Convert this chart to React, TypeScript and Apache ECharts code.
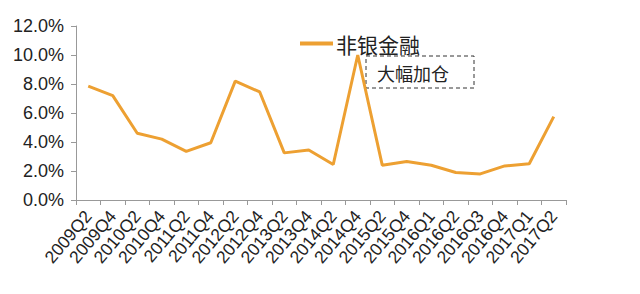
import React, { useEffect, useRef } from "react";
import * as echarts from "echarts";

const categories = [
  "2009Q2", "2009Q4", "2010Q2", "2010Q4", "2011Q2", "2011Q4", "2012Q2", "2012Q4",
  "2013Q2", "2013Q4", "2014Q2", "2014Q4", "2015Q2", "2015Q4", "2016Q1", "2016Q2",
  "2016Q3", "2016Q4", "2017Q1", "2017Q2",
];
const values = [
  7.85, 7.2, 4.6, 4.2, 3.35, 3.95, 8.2, 7.45, 3.25, 3.45, 2.45, 10.0, 2.4, 2.65,
  2.4, 1.9, 1.8, 2.35, 2.5, 5.75,
];
const seriesName = "非银金融";
const annotation = "大幅加仓";

export default function App() {
  const ref = useRef<HTMLDivElement>(null);
  useEffect(() => {
    if (!ref.current) return;
    const chart = echarts.init(ref.current, undefined, { renderer: "svg" });
    const font = "'Liberation Sans', Arial, sans-serif";
    chart.setOption({
      animation: false,
      textStyle: { fontFamily: font },
      grid: { left: 76, right: 74, top: 26, bottom: 94 },
      legend: {
        left: 295,
        top: 28,
        icon: "rect",
        itemWidth: 33,
        itemHeight: 4,
        itemGap: 4,
        textStyle: { fontSize: 21, color: "#222", fontFamily: "'Noto Sans CJK SC', sans-serif", padding: [0, 0, 0, -2] },
        data: [seriesName],
      },
      xAxis: {
        type: "category",
        data: categories,
        boundaryGap: true,
        axisLine: { lineStyle: { color: "#999", width: 1 } },
        axisTick: { show: true, length: 5, lineStyle: { color: "#999" } },
        axisLabel: { rotate: 50, fontSize: 17.5, color: "#222", interval: 0, margin: 13 },
      },
      yAxis: {
        type: "value",
        min: 0,
        max: 12,
        interval: 2,
        axisLine: { show: true, lineStyle: { color: "#999", width: 1 } },
        axisTick: { show: true, length: 5, inside: false, lineStyle: { color: "#999" } },
        splitLine: { show: false },
        axisLabel: {
          fontSize: 18,
          color: "#222",
          margin: 12,
          formatter: (v: number) => v.toFixed(1) + "%",
        },
      },
      graphic: [
        {
          type: "rect",
          shape: { x: 366, y: 56, width: 108, height: 32 },
          style: { fill: "none", stroke: "#333", lineWidth: 1, lineDash: [4, 3] },
        },
        {
          type: "text",
          x: 377,
          y: 73,
          style: {
            text: annotation,
            fontSize: 18,
            fill: "#222",
            verticalAlign: "middle",
            fontFamily: "'Noto Sans CJK SC', sans-serif",
          },
        },
      ],
      series: [
        {
          name: seriesName,
          type: "line",
          data: values,
          showSymbol: false,
          symbol: "none",
          lineStyle: { color: "#EDA032", width: 3 },
          itemStyle: { color: "#EDA032" },
        },
      ],
    });
    return () => chart.dispose();
  }, []);
  return <div ref={ref} style={{ width: 640, height: 294, margin: -8 }} />;
}
